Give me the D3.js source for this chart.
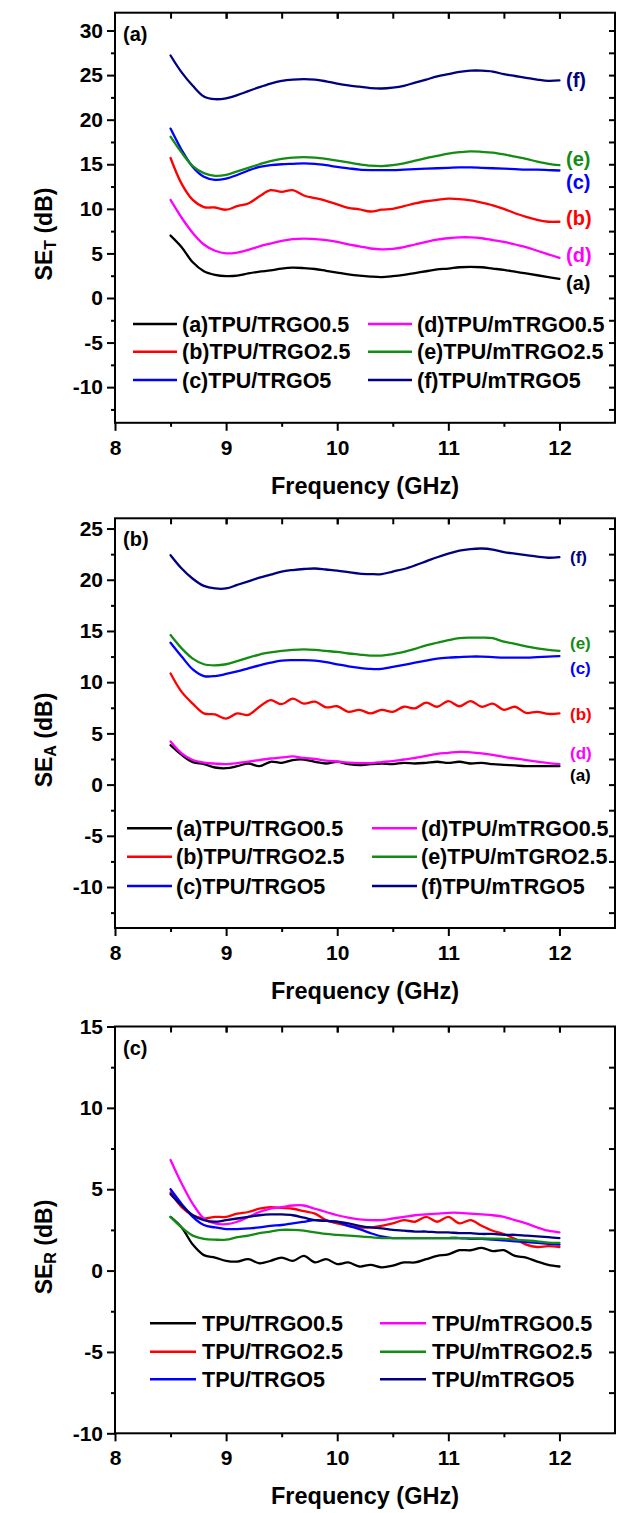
<!DOCTYPE html>
<html><head><meta charset="utf-8">
<script src="https://cdn.jsdelivr.net/npm/d3@7"></script>
<style>
body{margin:0;background:#fff}
svg{display:block}
text{font-family:"Liberation Sans",Arial,Helvetica,sans-serif;font-weight:bold}
</style>
</head><body>
<svg id="chart" width="619" height="1513"></svg>
<script>
// ---------- DATA ----------
const freq = [8.5,8.6,8.7,8.8,8.9,9.0,9.1,9.2,9.3,9.4,9.5,9.6,9.7,9.8,9.9,10.0,10.1,10.2,10.3,10.4,10.5,10.6,10.7,10.8,10.9,11.0,11.1,11.2,11.3,11.4,11.5,11.6,11.7,11.8,11.9,12.0];
const xTickValues = [8,9,10,11,12];
const yTicksA = [-10,-5,0,5,10,15,20,25,30];
const yTicksB = [-10,-5,0,5,10,15,20,25];
const yTicksC = [-10,-5,0,5,10,15];
const seriesKeys = ["a","b","c","d","e","f"];
const seriesColors = ["#000000","#ff0000","#0000ff","#ff00ff","#138c13","#000080"];
const legendNamesA = ["(a)TPU/TRGO0.5","(b)TPU/TRGO2.5","(c)TPU/TRGO5","(d)TPU/mTRGO0.5","(e)TPU/mTRGO2.5","(f)TPU/mTRGO5"];
const legendNamesB = ["(a)TPU/TRGO0.5","(b)TPU/TRGO2.5","(c)TPU/TRGO5","(d)TPU/mTRGO0.5","(e)TPU/mTGRO2.5","(f)TPU/mTRGO5"];
const legendNamesC = ["TPU/TRGO0.5","TPU/TRGO2.5","TPU/TRGO5","TPU/mTRGO0.5","TPU/mTRGO2.5","TPU/mTRGO5"];
const endLabels = ["(a)","(b)","(c)","(d)","(e)","(f)"];

// SE_T
const seT_a = [7.0,5.7,4.0,3.0,2.6,2.45,2.5,2.75,2.95,3.1,3.3,3.4,3.35,3.25,3.05,2.85,2.65,2.5,2.4,2.35,2.45,2.6,2.8,3.0,3.2,3.3,3.45,3.5,3.45,3.3,3.15,2.95,2.75,2.55,2.35,2.15];
const seT_b = [15.7,12.8,11.0,10.2,10.15,9.9,10.3,10.6,11.4,12.1,11.9,12.1,11.5,11.2,10.9,10.5,10.1,9.95,9.7,9.9,10.0,10.3,10.6,10.85,11.0,11.15,11.1,10.95,10.7,10.4,10.0,9.5,9.1,8.75,8.55,8.55];
const seT_c = [19.0,16.6,14.7,13.6,13.25,13.4,13.8,14.3,14.7,14.9,15.0,15.05,15.1,15.05,14.9,14.7,14.55,14.4,14.35,14.35,14.35,14.4,14.45,14.5,14.55,14.6,14.65,14.65,14.6,14.55,14.5,14.45,14.4,14.4,14.35,14.3];
const seT_d = [11.0,9.0,7.3,6.0,5.3,5.0,5.1,5.4,5.8,6.1,6.4,6.6,6.65,6.6,6.5,6.3,6.0,5.8,5.55,5.45,5.5,5.7,6.0,6.3,6.55,6.7,6.8,6.8,6.7,6.5,6.3,6.0,5.7,5.3,4.9,4.5];
const seT_e = [18.1,16.3,14.8,14.0,13.7,13.8,14.2,14.6,15.0,15.35,15.6,15.75,15.8,15.75,15.6,15.4,15.2,15.0,14.85,14.8,14.9,15.1,15.4,15.7,15.95,16.2,16.35,16.45,16.4,16.3,16.1,15.85,15.6,15.3,15.05,14.9];
const seT_f = [27.2,25.3,23.8,22.6,22.3,22.4,22.75,23.2,23.65,24.05,24.35,24.5,24.55,24.5,24.3,24.05,23.85,23.7,23.55,23.5,23.6,23.8,24.15,24.5,24.85,25.1,25.35,25.5,25.5,25.4,25.1,24.9,24.7,24.5,24.35,24.4];
// SE_A
const seA_a = [3.85,2.9,2.2,2.0,1.67,1.6,1.8,2.06,1.8,2.23,2.13,2.4,2.45,2.23,2.06,2.23,2.0,1.9,2.0,2.06,2.0,2.13,2.06,2.13,2.23,2.13,2.23,2.06,2.13,2.0,1.93,1.87,1.8,1.8,1.8,1.8];
const seA_b = [10.85,9.05,7.9,6.95,6.85,6.45,6.95,6.8,7.6,8.25,7.85,8.4,7.9,8.1,7.55,7.65,7.1,7.3,6.95,7.3,7.1,7.6,7.45,8.0,7.6,8.15,7.65,8.15,7.6,7.9,7.3,7.6,7.0,7.1,6.9,6.95];
const seA_c = [13.85,12.5,11.25,10.6,10.6,10.8,11.05,11.35,11.65,11.9,12.1,12.15,12.15,12.1,11.95,11.75,11.55,11.4,11.3,11.3,11.5,11.7,11.9,12.1,12.3,12.4,12.45,12.5,12.5,12.45,12.4,12.4,12.4,12.45,12.5,12.55];
const seA_d = [4.2,3.05,2.4,2.15,2.05,2.0,2.1,2.25,2.4,2.55,2.65,2.75,2.6,2.5,2.35,2.25,2.15,2.1,2.1,2.2,2.3,2.45,2.6,2.8,3.0,3.1,3.2,3.15,3.05,2.9,2.7,2.55,2.4,2.25,2.1,2.0];
const seA_e = [14.6,13.3,12.3,11.75,11.65,11.75,12.05,12.4,12.7,12.9,13.05,13.15,13.2,13.15,13.05,12.95,12.8,12.7,12.6,12.6,12.75,12.95,13.25,13.6,13.85,14.1,14.3,14.35,14.35,14.3,13.95,13.75,13.5,13.3,13.15,13.05];
const seA_f = [22.4,21.1,20.1,19.4,19.15,19.15,19.5,19.85,20.2,20.5,20.8,20.95,21.05,21.1,21.0,20.9,20.75,20.6,20.55,20.55,20.8,21.05,21.4,21.8,22.2,22.55,22.85,23.0,23.05,22.95,22.7,22.55,22.4,22.25,22.15,22.2];
// SE_R
const seR_a = [3.3,2.65,1.6,0.95,0.8,0.6,0.55,0.7,0.45,0.6,0.8,0.6,0.9,0.5,0.7,0.4,0.5,0.25,0.35,0.2,0.3,0.5,0.5,0.7,0.9,1.0,1.25,1.25,1.4,1.2,1.25,0.9,0.8,0.55,0.35,0.25];
const seR_b = [4.8,3.9,3.4,3.2,3.3,3.3,3.5,3.6,3.8,3.9,3.85,3.8,3.65,3.5,3.1,2.9,2.75,2.65,2.65,2.75,2.9,3.1,3.0,3.3,3.0,3.3,2.9,3.1,2.75,2.45,2.25,1.95,1.6,1.45,1.5,1.45];
const seR_c = [5.0,4.1,3.3,2.8,2.65,2.55,2.55,2.6,2.65,2.75,2.8,2.9,3.0,3.1,3.05,3.0,2.75,2.55,2.3,2.1,2.0,2.0,2.0,2.0,2.0,2.0,2.0,1.95,1.95,1.9,1.85,1.8,1.75,1.7,1.65,1.6];
const seR_d = [6.8,5.35,4.1,3.2,2.9,2.85,3.0,3.3,3.6,3.8,3.9,4.0,4.0,3.8,3.6,3.4,3.25,3.15,3.1,3.1,3.2,3.3,3.4,3.45,3.5,3.55,3.55,3.5,3.45,3.4,3.3,3.1,2.9,2.65,2.45,2.35];
const seR_e = [3.3,2.65,2.15,1.95,1.9,1.9,2.05,2.15,2.3,2.4,2.5,2.5,2.45,2.35,2.25,2.2,2.15,2.1,2.05,2.0,2.0,2.0,2.0,2.0,2.0,2.0,2.0,1.98,1.97,1.96,1.95,1.9,1.85,1.8,1.72,1.7];
const seR_f = [4.7,4.0,3.4,3.1,3.0,3.1,3.2,3.3,3.4,3.45,3.45,3.4,3.25,3.1,3.05,3.0,2.9,2.75,2.65,2.6,2.5,2.45,2.4,2.4,2.35,2.35,2.3,2.3,2.25,2.25,2.2,2.2,2.15,2.1,2.05,2.0];

// end label anchor values (panel a and b)
const endLabelValsA = [1.72,8.94,13.05,4.82,15.6,24.45];
const endLabelValsB = [0.93,6.95,11.35,3.05,13.8,22.25];

// ---------- LAYOUT ----------
const svg = d3.select("#chart");
const FONT = '"Liberation Sans",Arial,Helvetica,sans-serif';
const x = d3.scaleLinear().domain([8,12.5]).range([115,615]);
const fmt = d => String(d);

const panels = [
  {tag:"(a)", sub:"T", domain:[-14,32], range:[422.8,12.7], ticks:yTicksA,
   data:[seT_a,seT_b,seT_c,seT_d,seT_e,seT_f], legend:legendNamesA,
   leg:{c1:133, c2:368, rows:[324,351.7,380], len:44, gap:5},
   labels:endLabelValsA, labelX:566, labelSize:20, titleCy:234},
  {tag:"(b)", sub:"A", domain:[-14,26], range:[928,518.3], ticks:yTicksB,
   data:[seA_a,seA_b,seA_c,seA_d,seA_e,seA_f], legend:legendNamesB,
   leg:{c1:127, c2:372, rows:[828.3,856.7,886], len:45, gap:4},
   labels:endLabelValsB, labelX:570, labelSize:17, titleCy:740},
  {tag:"(c)", sub:"R", domain:[-10,15], range:[1433.3,1026.5], ticks:yTicksC,
   data:[seR_a,seR_b,seR_c,seR_d,seR_e,seR_f], legend:legendNamesC,
   leg:{c1:150, c2:380, rows:[1323.3,1351.7,1379.3], len:46, gap:6},
   labels:null, titleCy:1247}
];

panels.forEach(p => {
  const y = d3.scaleLinear().domain(p.domain).range(p.range);
  const top = p.range[1], bot = p.range[0];
  const g = svg.append("g");

  const yMinor = d3.range(Math.ceil(p.domain[0]/2.5)*2.5, p.domain[1]+0.001, 2.5)
      .filter(v => y(v) > top + 1 && y(v) < bot - 1);
  const xMinor = d3.range(8.5, 12.01, 0.5);

  // data lines
  const line = d3.line().x((d,i)=>x(freq[i])).y(d=>y(d)).curve(d3.curveCatmullRom.alpha(0.5));
  p.data.forEach((arr,k) => {
    g.append("path").attr("d", line(arr)).attr("fill","none")
      .attr("stroke", seriesColors[k]).attr("stroke-width", 2.3)
      .attr("stroke-linejoin","round").attr("stroke-linecap","round");
  });

  // frame
  g.append("rect").attr("x", x(8)).attr("y", top).attr("width", x(12.5)-x(8)).attr("height", bot-top)
    .attr("fill","none").attr("stroke","#000").attr("stroke-width",2);

  // bottom axis (outward)
  const bAxis = d3.axisBottom(x).tickValues(xTickValues).tickSize(8).tickPadding(9).tickFormat(fmt);
  const bg = g.append("g").attr("transform",`translate(0,${bot})`).call(bAxis);
  bg.select(".domain").remove();
  bg.selectAll("line").attr("stroke","#000").attr("stroke-width",2);
  bg.selectAll("text").attr("font-size",21).attr("font-family",FONT).attr("font-weight","bold").attr("fill","#000");
  const bm = d3.axisBottom(x).tickValues(xMinor.filter(v=>v%1!==0 && v<12.4)).tickSize(4).tickFormat("");
  const bmg = g.append("g").attr("transform",`translate(0,${bot})`).call(bm);
  bmg.select(".domain").remove();
  bmg.selectAll("line").attr("stroke","#000").attr("stroke-width",2);

  // top axis (inward)
  const tAxis = d3.axisBottom(x).tickValues(xMinor.concat([9,10,11,12]).filter(v=>v<12.4)).tickSize(6).tickFormat("");
  const tg = g.append("g").attr("transform",`translate(0,${top})`).call(tAxis);
  tg.select(".domain").remove();
  tg.selectAll("line").attr("stroke","#000").attr("stroke-width",2);

  // left axis (outward)
  const lAxis = d3.axisLeft(y).tickValues(p.ticks).tickSize(8).tickPadding(4).tickFormat(fmt);
  const lg = g.append("g").attr("transform",`translate(${x(8)},0)`).call(lAxis);
  lg.select(".domain").remove();
  lg.selectAll("line").attr("stroke","#000").attr("stroke-width",2);
  lg.selectAll("text").attr("font-size",21).attr("font-family",FONT).attr("font-weight","bold").attr("fill","#000");
  const lm = d3.axisLeft(y).tickValues(yMinor.filter(v=>v%5!==0)).tickSize(4).tickFormat("");
  const lmg = g.append("g").attr("transform",`translate(${x(8)},0)`).call(lm);
  lmg.select(".domain").remove();
  lmg.selectAll("line").attr("stroke","#000").attr("stroke-width",2);

  // right axis (inward)
  const rAxis = d3.axisLeft(y).tickValues(yMinor).tickSize(6).tickFormat("");
  const rg = g.append("g").attr("transform",`translate(${x(12.5)},0)`).call(rAxis);
  rg.select(".domain").remove();
  rg.selectAll("line").attr("stroke","#000").attr("stroke-width",2);

  // panel tag
  g.append("text").attr("x", x(8)+8).attr("y", top+28).attr("font-size",20).attr("fill","#000").text(p.tag);

  // x title
  g.append("text").attr("x",(x(8)+x(12.5))/2).attr("y", bot+71).attr("text-anchor","middle")
    .attr("font-size",23.5).attr("fill","#000").text("Frequency (GHz)");

  // y title
  const yt = g.append("text").attr("transform",`translate(52,${p.titleCy}) rotate(-90)`)
    .attr("text-anchor","middle").attr("font-size",23).attr("fill","#000");
  yt.append("tspan").text("SE");
  yt.append("tspan").attr("font-size",16).attr("dy",4).text(p.sub);
  yt.append("tspan").attr("dy",-4).text(" (dB)");

  // legend
  p.legend.forEach((name,k) => {
    const col = k < 3 ? p.leg.c1 : p.leg.c2;
    const ry = p.leg.rows[k % 3];
    g.append("line").attr("x1",col).attr("x2",col+p.leg.len).attr("y1",ry).attr("y2",ry)
      .attr("stroke",seriesColors[k]).attr("stroke-width",2.6);
    g.append("text").attr("x",col+p.leg.len+p.leg.gap).attr("y",ry).attr("dy","0.36em")
      .attr("font-size",21.5).attr("fill","#000").text(name);
  });

  // end labels
  if (p.labels) {
    p.labels.forEach((v,k) => {
      g.append("text").attr("x",p.labelX).attr("y",y(v)).attr("dy","0.36em")
        .attr("font-size",p.labelSize).attr("fill",seriesColors[k]).text(endLabels[k]);
    });
  }
});
</script>
</body></html>
